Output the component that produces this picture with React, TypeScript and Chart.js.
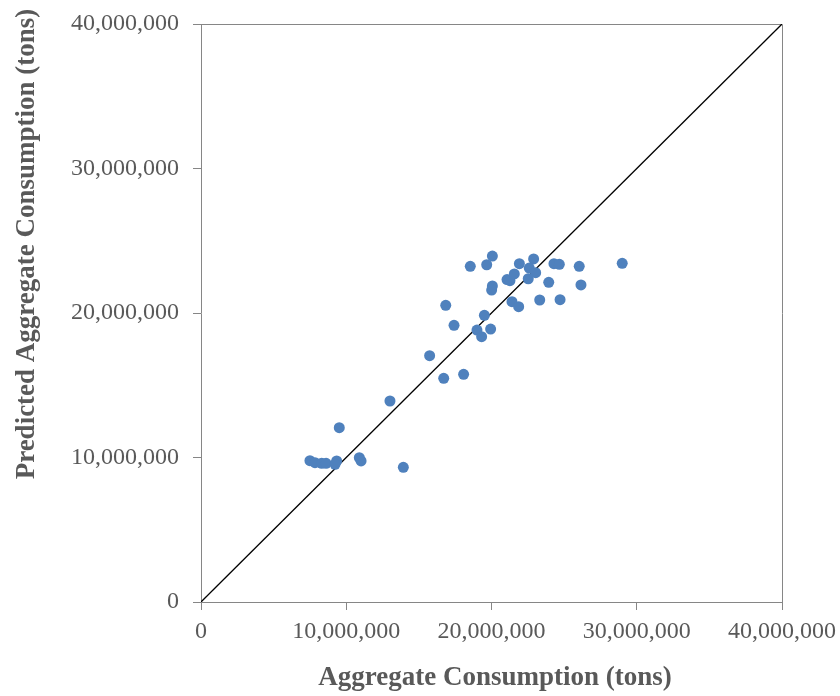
import React, { useEffect, useRef } from "react";
import { Chart, registerables } from "chart.js";

Chart.register(...registerables);

// Actual aggregate consumption (tons)
const actualTons = [
  9520000, 13010000, 15740000, 16710000, 18080000, 16850000, 17420000, 19510000,
  19000000, 19320000, 19940000, 18540000, 19670000, 20060000, 20060000, 20010000,
  21070000, 21270000, 21570000, 21920000, 22900000, 22600000, 23040000, 22530000,
  21410000, 21870000, 23320000, 23940000, 24300000, 24670000, 24720000, 26040000,
  26160000, 29000000, 7500000, 7850000, 8310000, 8610000, 9340000, 9230000,
  10900000, 11020000, 13930000,
];
// Predicted aggregate consumption (tons)
const predictedTons = [
  12060000, 13910000, 17050000, 15480000, 15760000, 20530000, 19150000, 19840000,
  18820000, 18360000, 18890000, 23230000, 23340000, 23940000, 21870000, 21590000,
  22310000, 22240000, 22700000, 23410000, 23740000, 23110000, 22790000, 22370000,
  20780000, 20440000, 20900000, 22120000, 23410000, 23370000, 20920000, 23230000,
  21940000, 23440000, 9780000, 9640000, 9600000, 9600000, 9760000, 9530000,
  9990000, 9760000, 9320000,
];
// 1:1 reference line end points
const refLine = [0, 40000000];
const axisMin = 0;
const axisMax = 40000000;
const axisStep = 10000000;
const xTitle = "Aggregate Consumption (tons)";
const yTitle = "Predicted Aggregate Consumption (tons)";

const FONT = "'Liberation Serif', 'Times New Roman', serif";
const GRAY_TEXT = "#595959";
const GRAY_LINE = "#868686";

const fmt = (v: number) => (v === 0 ? "0" : Math.round(v).toLocaleString("en-US"));

export default function App() {
  const ref = useRef<HTMLCanvasElement | null>(null);

  useEffect(() => {
    const canvas = ref.current;
    if (!canvas) return;

    const framePlugin = {
      id: "frameAndTitles",
      beforeDatasetsDraw(chart: any) {
        const { ctx, chartArea: a } = chart;
        ctx.save();
        ctx.strokeStyle = GRAY_LINE;
        ctx.lineWidth = 1;
        ctx.beginPath();
        ctx.moveTo(Math.round(a.left) + 0.5, Math.round(a.top) + 0.5);
        ctx.lineTo(Math.round(a.right) + 0.5, Math.round(a.top) + 0.5);
        ctx.lineTo(Math.round(a.right) + 0.5, Math.round(a.bottom) + 0.5);
        ctx.stroke();
        ctx.restore();
      },
      afterDraw(chart: any) {
        const { ctx } = chart;
        ctx.save();
        ctx.fillStyle = GRAY_TEXT;
        ctx.font = `bold 27px ${FONT}`;
        ctx.textAlign = "center";
        ctx.textBaseline = "middle";
        ctx.fillText(xTitle, 495, 678);
        ctx.translate(27, 244);
        ctx.rotate(-Math.PI / 2);
        ctx.fillText(yTitle, 0, 0);
        ctx.restore();
      },
    };

    const points = actualTons.map((x, i) => ({ x, y: predictedTons[i] }));
    const linePts = refLine.map((v) => ({ x: v, y: v }));

    const axisCommon = (isX: boolean) => ({
      type: "linear" as const,
      min: axisMin,
      max: axisMax,
      ticks: {
        stepSize: axisStep,
        color: GRAY_TEXT,
        font: { family: FONT, size: 24 },
        padding: isX ? 7 : 14,
        maxRotation: 0,
        callback: (v: any) => fmt(Number(v)),
      },
      grid: {
        display: true,
        drawOnChartArea: false,
        drawTicks: true,
        tickLength: 8,
        color: GRAY_LINE,
        lineWidth: 1,
      },
      border: { display: true, color: GRAY_LINE, width: 1 },
      title: { display: false },
      afterFit: (scale: any) => {
        if (isX) scale.height = 94;
        else scale.width = 201;
        scale.paddingTop = 0;
        scale.paddingBottom = 0;
        scale.paddingLeft = 0;
        scale.paddingRight = 0;
      },
    });

    const chart = new Chart(canvas, {
      type: "scatter",
      data: {
        datasets: [
          {
            type: "line",
            label: "1:1",
            data: linePts,
            borderColor: "#000000",
            borderWidth: 1.3,
            pointRadius: 0,
            fill: false,
            order: 2,
          } as any,
          {
            label: "Consumption",
            data: points,
            backgroundColor: "#4F81BD",
            borderColor: "#4F81BD",
            borderWidth: 0,
            pointRadius: 5.5,
            pointHoverRadius: 5.5,
            order: 1,
          },
        ],
      },
      options: {
        responsive: false,
        animation: false,
        devicePixelRatio: 1,
        layout: { padding: { left: 0, right: 58, top: 24, bottom: 0 } },
        plugins: {
          legend: { display: false },
          tooltip: { enabled: false },
          title: { display: false },
        },
        scales: {
          x: { ...axisCommon(true), position: "bottom" },
          y: { ...axisCommon(false), position: "left" },
        },
      } as any,
      plugins: [framePlugin],
    });

    return () => chart.destroy();
  }, []);

  return (
    <div style={{ position: "fixed", left: 0, top: 0, width: 840, height: 696, background: "#ffffff" }}>
      <canvas ref={ref} width={840} height={696} style={{ width: 840, height: 696, display: "block" }} />
    </div>
  );
}
